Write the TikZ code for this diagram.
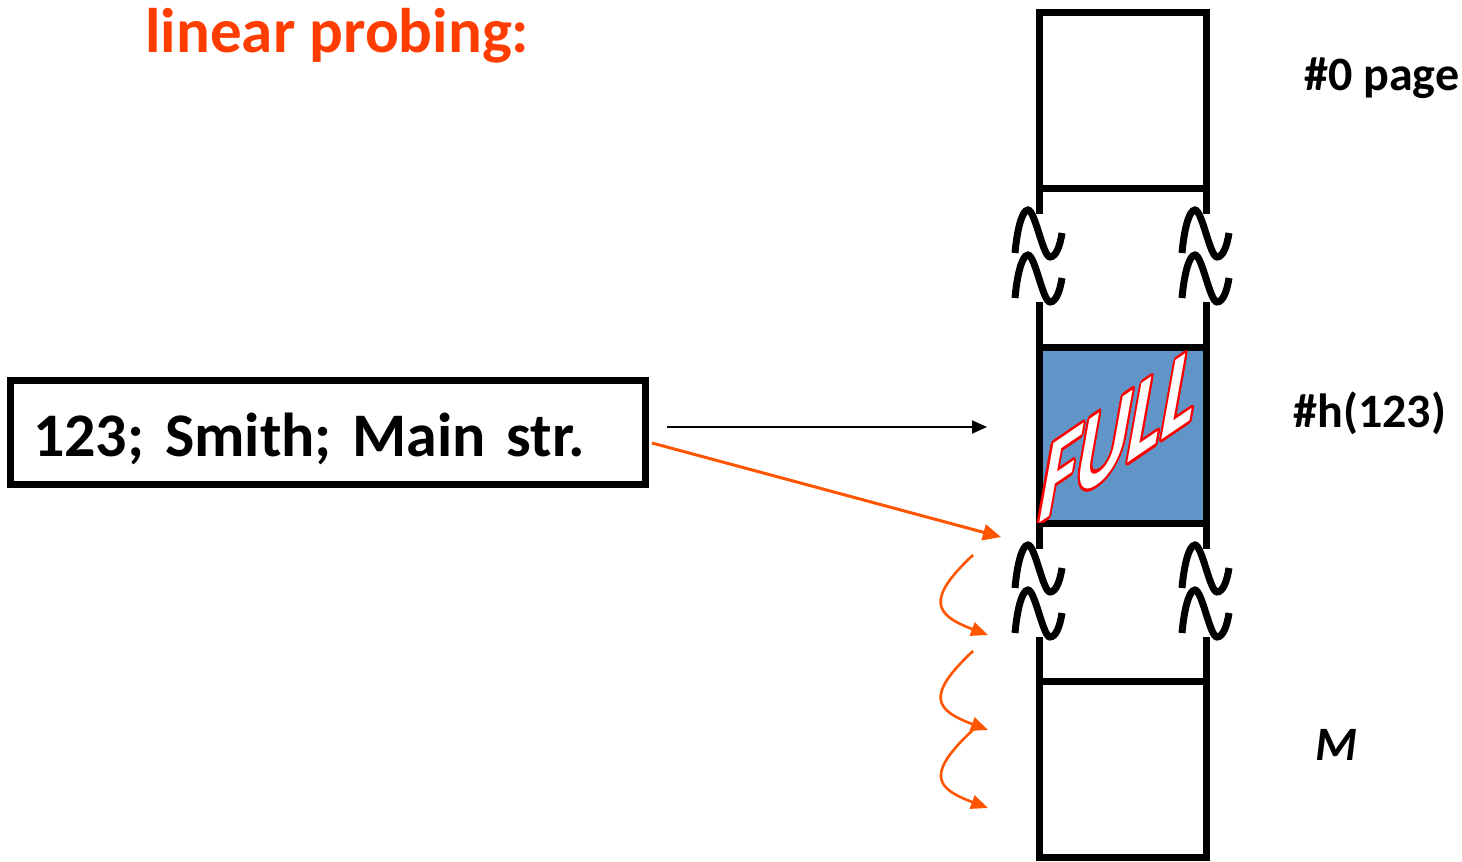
\documentclass[tikz,border=0pt]{standalone}
\usepackage{fontspec}
\setmainfont{Carlito}
\usepackage{contour}
\usetikzlibrary{arrows.meta}
\definecolor{titleorange}{RGB}{255,61,0}
\definecolor{arroworange}{RGB}{255,85,0}
\definecolor{fullblue}{RGB}{97,148,199}
\contourlength{1pt}
\contournumber{32}
\frenchspacing
\begin{document}
\begin{tikzpicture}[x=0.5pt,y=-0.5pt,
  cellline/.style={line width=3.5pt},
  cell/.style={draw, line width=3.5pt, minimum width=83.5pt, minimum height=88pt, inner sep=0pt, outer sep=0pt},
  lab/.style={anchor=base west, inner sep=0pt, font=\bfseries\fontsize{24}{28}\selectfont},
  orangearrow/.style={draw=arroworange, line width=1.5pt, -{Triangle[length=9pt,width=8pt]}, arroworange},
  curvearrow/.style={draw=arroworange, line width=1.3pt, -{Triangle[length=8.5pt,width=7pt]}, arroworange},
  blackarrow/.style={draw=black, line width=1pt, -{Triangle[length=7.5pt,width=6.5pt]}},
  wave/.pic={\draw[line width=3.5pt] (-24,43) .. controls (-22,20) and (-17,0) .. (-11,0) .. controls (-4,0) and (4,47) .. (11,47) .. controls (17,47) and (21,36) .. (23,23);}
]
\useasboundingbox (0,0) rectangle (1462,862);

% title
\node[anchor=base west, inner sep=0pt, text=titleorange, font=\bfseries\fontsize{31.5}{36}\selectfont] (title) at (145,53) {linear probing:};

% record box
\node[draw, line width=3.5pt, inner sep=0pt, outer sep=0pt, minimum width=317.5pt, minimum height=52pt,
      text width=294.5pt, align=left, text height=24.5pt, text depth=0pt,
      font=\bfseries\fontsize{31}{36}\selectfont] (record) at (327.5,432) {123; Smith; Main str.};

% column cells
\node[cell] (page0) at (1122.5,100.5) {};
\node[cell, fill=fullblue, minimum height=88pt] (fullcell) at (1122.5,435) {};
\node[cell] (lastcell) at (1122.5,769) {};

% FULL word art
\node[inner sep=0pt, cm={1,0.68,0.15,1.45,(0,0)}, font=\bfseries\itshape\fontsize{40}{44}\selectfont] (fulltext) at (1119,436) {\contour{red}{\textcolor{white}{FULL}}};

% vertical segments with breaks
\foreach \xx/\side in {1039/west,1206/east} {
  \draw[cellline] (page0.south \side) -- (\xx,214);
  \draw[cellline] (\xx,302) -- (fullcell.north \side);
  \draw[cellline] (fullcell.south \side) -- (\xx,549);
  \draw[cellline] (\xx,637) -- (lastcell.north \side);
  \pic at (\xx,210) {wave};
  \pic at (\xx,255) {wave};
  \pic at (\xx,545) {wave};
  \pic at (\xx,590) {wave};
}

% labels
\node[lab] (lab0) at (1304,90) {\#0 page};
\node[lab] (labh) at (1293,427) {\#h(123)};
\node[lab, font=\bfseries\itshape\fontsize{24}{28}\selectfont] (labm) at (1315,760) {M};

% arrows
\coordinate (blackend) at (987,427);
\coordinate (probe0) at (1001,537);
\coordinate (c1s) at (973,555);
\coordinate (c1e) at (988,635);
\coordinate (c2s) at (973,651);
\coordinate (c2e) at (988,730);
\coordinate (c3s) at (975,728);
\coordinate (c3e) at (988,808);

\draw[blackarrow] ([xshift=11pt,yshift=2.5pt]record.east) -- (blackend);
\draw[orangearrow] ([xshift=3.5pt,yshift=-5.5pt]record.east) -- (probe0);
\draw[curvearrow] (c1s) .. controls (925,600) and (935,615) .. (c1e);
\draw[curvearrow] (c2s) .. controls (925,696) and (935,710) .. (c2e);
\draw[curvearrow] (c3s) .. controls (925,774) and (935,788) .. (c3e);
\end{tikzpicture}
\end{document}
